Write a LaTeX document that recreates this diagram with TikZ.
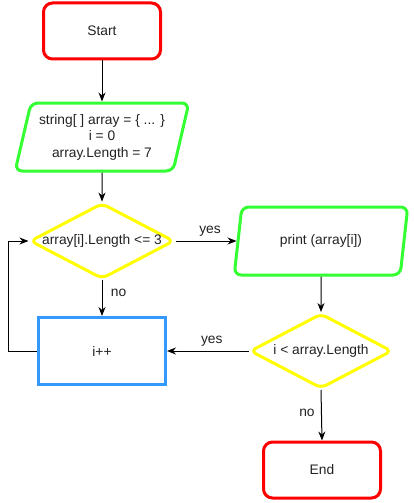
\documentclass[tikz,border=0pt]{standalone}
\usepackage{fontspec}
\setmainfont{Liberation Sans}
\usetikzlibrary{shapes.geometric,arrows.meta}

\definecolor{termred}{RGB}{255,0,0}
\definecolor{iogreen}{RGB}{51,255,51}
\definecolor{condyellow}{RGB}{255,255,0}
\definecolor{procblue}{RGB}{51,153,255}
\definecolor{txtgray}{RGB}{34,34,34}

\begin{document}
\begin{tikzpicture}[x=1pt, y=-1pt,
    every node/.style={font=\fontsize{13.8}{16.5}\selectfont, text=txtgray},
    terminal/.style={draw=termred, line width=3pt, rounded corners=9pt,
      minimum width=117pt, minimum height=56pt},
    iobox/.style={trapezium, draw=iogreen, line width=3pt, rounded corners=7pt,
      trapezium left angle=73, trapezium right angle=107, trapezium stretches=true,
      minimum width=174pt, minimum height=68pt, align=center, inner sep=0pt},
    decision/.style={diamond, draw=condyellow, line width=3pt, rounded corners=6pt,
      minimum width=142pt, minimum height=75pt, inner sep=0pt, aspect=1.9},
    process/.style={rectangle, draw=procblue, line width=3pt,
      minimum width=127pt, minimum height=67pt},
    flow/.style={-{Stealth[length=9pt, width=7pt]}, line width=1pt, black}]
  \useasboundingbox (0,0) rectangle (414,503);

  % blocks
  \node[terminal] (start) at (102,31) {Start};
  \node[iobox] (init) at (102,137) {string[ ] array = \{ ... \}\\ i = 0\\ array.Length = 7};
  \node[decision] (check) at (102,241) {array[i].Length <= 3};
  \node[iobox] (print) at (321,241) {print (array[i])};
  \node[decision] (loop) at (321,351) {i < array.Length};
  \node[process] (inc) at (102,351) {i++};
  \node[terminal] (finish) at (322,470) {End};

  % connectors
  \draw[flow] (start) -- (init);
  \draw[flow] (init) -- (check);
  \draw[flow] (check.east) -- node[above=1pt, xshift=4pt] {yes} (print.left side);
  \draw[flow] (print) -- (loop);
  \draw[flow] (loop.west) -- node[above=1pt, xshift=4pt] {yes} (inc.east);
  \draw[flow] (check.south) -- node[pos=0.35, right=5pt] {no} (inc.north);
  \draw[flow] (inc.west) -- ([xshift=-29pt]inc.west) |- (check.west);
  \draw[flow] (loop.south) -- node[pos=0.45, left=3pt] {no} (finish.north);
\end{tikzpicture}
\end{document}
